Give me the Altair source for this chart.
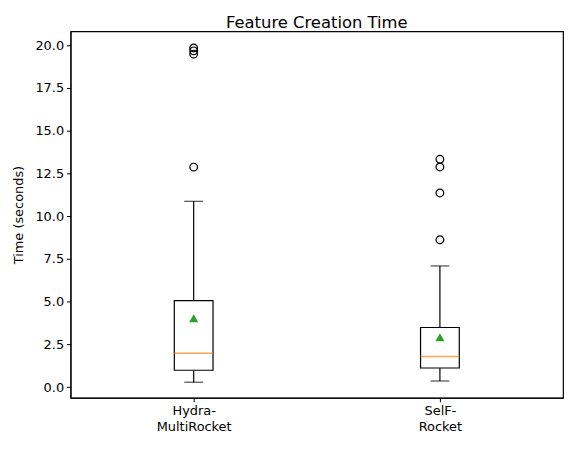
import altair as alt
import pandas as pd

categories = ["Hydra-MultiRocket", "SelF-Rocket"]
whisker_low = [0.29, 0.36]
q1 = [0.99, 1.12]
median = [1.98, 1.80]
q3 = [5.06, 3.49]
whisker_high = [10.87, 7.09]
mean = [4.03, 2.92]
outliers_hydra = [12.87, 19.48, 19.67, 19.84]
outliers_self = [8.62, 11.36, 12.88, 13.33]

stats = pd.DataFrame({
    "cat": categories, "lo": whisker_low, "q1": q1, "med": median,
    "q3": q3, "hi": whisker_high, "mean": mean,
})
out = pd.DataFrame({
    "cat": [categories[0]] * len(outliers_hydra) + [categories[1]] * len(outliers_self),
    "v": outliers_hydra + outliers_self,
})

FONT = "DejaVu Sans"
xenc = alt.X("cat:N", sort=categories, title=None,
             scale=alt.Scale(type="point", padding=0.5),
             axis=alt.Axis(labelAngle=0, labelExpr="[split(datum.label,'-')[0] + '-', split(datum.label,'-')[1]]",
                           labelFontSize=13, labelColor="black", tickColor="black", tickSize=4,
                           domainColor="black", labelPadding=3, labelLineHeight=16))
yscale = alt.Scale(domain=[-0.62, 20.81], nice=False, zero=False)
yaxis = alt.Axis(values=[0, 2.5, 5, 7.5, 10, 12.5, 15, 17.5, 20], format=".1f", grid=False,
                 labelFontSize=13, labelColor="black", tickColor="black", tickSize=4,
                 domainColor="black", titleFontSize=13, titleFontWeight="normal",
                 titleColor="black", titlePadding=9, labelPadding=3)

base = alt.Chart(stats)
whisk_up = base.mark_rule(color="black", strokeWidth=1.2).encode(
    x=xenc, y=alt.Y("q3:Q", scale=yscale, axis=yaxis, title="Time (seconds)"), y2="hi:Q")
whisk_dn = base.mark_rule(color="black", strokeWidth=1.2).encode(x=xenc, y=alt.Y("lo:Q", scale=yscale), y2="q1:Q")
box = base.mark_bar(size=39, fill="white", stroke="black", strokeWidth=1.2).encode(
    x=xenc, y=alt.Y("q1:Q", scale=yscale), y2="q3:Q")
med = base.mark_tick(size=39, thickness=1.5, color="#ff7f0e", orient="horizontal").encode(
    x=xenc, y=alt.Y("med:Q", scale=yscale))
cap_hi = base.mark_tick(size=19, thickness=1.2, color="black", orient="horizontal").encode(
    x=xenc, y=alt.Y("hi:Q", scale=yscale))
cap_lo = base.mark_tick(size=19, thickness=1.2, color="black", orient="horizontal").encode(
    x=xenc, y=alt.Y("lo:Q", scale=yscale))
mn = base.mark_point(shape="triangle-up", filled=True, size=85, color="#2ca02c", opacity=1).encode(
    x=xenc, y=alt.Y("mean:Q", scale=yscale))
outl = alt.Chart(out).mark_point(shape="circle", filled=False, size=60, color="black",
                                 strokeWidth=1.2, opacity=1).encode(
    x=xenc, y=alt.Y("v:Q", scale=yscale))

chart = alt.layer(whisk_up, whisk_dn, box, med, cap_hi, cap_lo, mn, outl).properties(
    width=496, height=369,
    title=alt.TitleParams("Feature Creation Time", fontSize=16.5, font=FONT, fontWeight="normal",
                          color="black", offset=0),
).configure(font=FONT).configure_view(stroke="black", strokeWidth=1.2)

chart.save("out.html", embed_options={"renderer": "svg", "actions": False})
